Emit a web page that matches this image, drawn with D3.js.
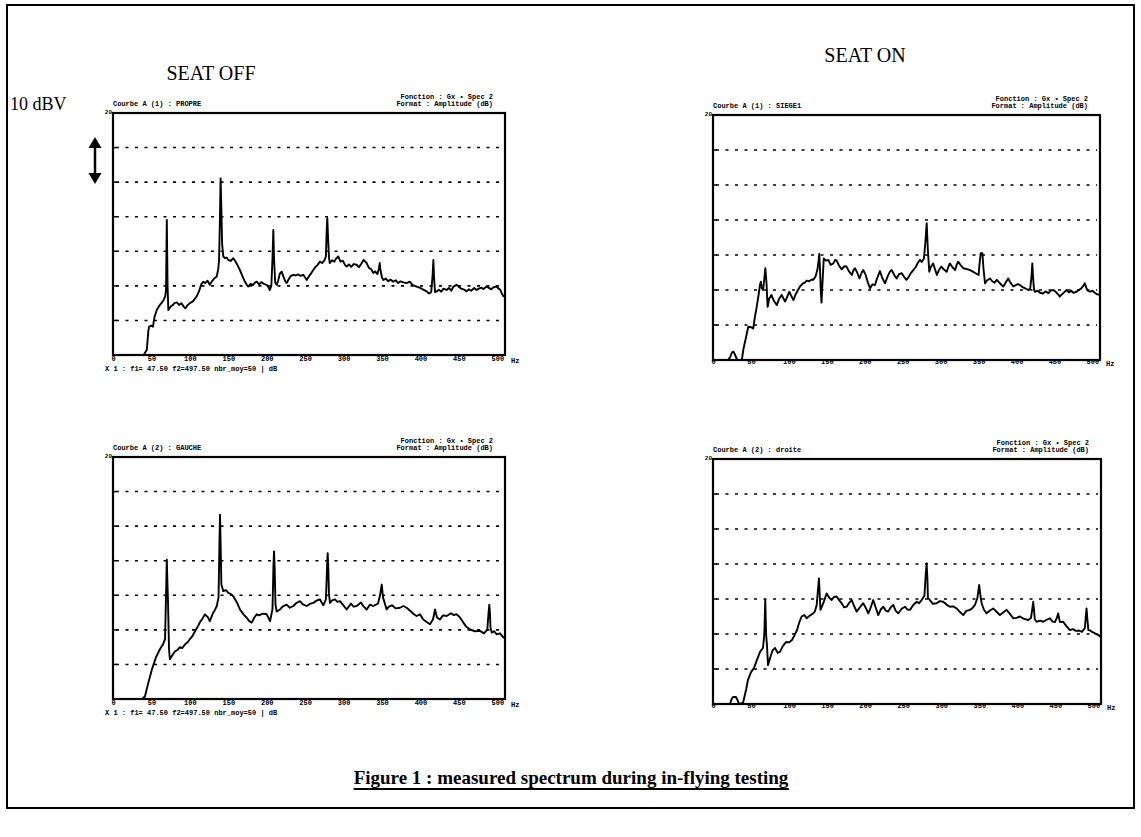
<!DOCTYPE html>
<html><head><meta charset="utf-8">
<script src="https://cdn.jsdelivr.net/npm/d3@7"></script>
<style>body{margin:0;background:#fff}svg{display:block}</style>
</head><body>
<svg id="c" width="1141" height="837"></svg>
<script>
// ---- data (frequency Hz, amplitude dB) ----
const freqTicks = [0,50,100,150,200,250,300,350,400,450,500];
const ampGrid = [-40,-30,-20,-10,0,10];
const ampDomain = [-50,20];
const freqDomain = [0,510];
const columnTitles = ["SEAT OFF","SEAT ON"];
const headerLeft = ["Courbe A (1) : PROPRE","Courbe A (1) : SIEGE1","Courbe A (2) : GAUCHE","Courbe A (2) : droite"];
const headerFunc = ["Fonction : Gx \u2022 Spec 2","Fonction : Gx \u2022 Spec 2","Fonction : Gx \u2022 Spec 2","Fonction : Gx \u2022 Spec 2"];
const headerFmt = ["Format : Amplitude (dB)","Format : Amplitude (dB)","Format : Amplitude (dB)","Format : Amplitude (dB)"];
const infoLine = "X 1 : f1= 47.50 f2=497.50 nbr_moy=50 | dB";

const seatOffTop = [[0,-50],[40,-50],[44,-48.5],[46,-43],[47,-41.8],[50,-41.5],[52,-41.8],[54,-39],[57,-36.9],[60,-35.8],[63,-35],[66,-34],[68,-33],[69,-31],[70,-10.9],[71,-30],[72,-37],[75,-36],[78,-35.5],[80,-35],[83,-34.8],[86,-35.5],[89,-35],[92,-36],[94,-36.5],[97,-35.6],[100,-35],[104,-34.5],[107,-33.6],[109,-33],[112,-31.5],[115,-29.5],[117.5,-28.8],[120,-29.2],[123,-28.5],[126,-29.7],[129,-28.6],[132,-27.8],[135,-27.3],[137,-25],[138,-22.5],[139,-12],[140,1.1],[141,-8],[142,-18],[143.5,-21.5],[146,-22],[148,-21.8],[150,-22.5],[153,-22.8],[156.5,-22],[159,-22.8],[162,-24],[165,-25.4],[168,-27],[171,-28.5],[174,-29.7],[176,-30.2],[179,-29.4],[182,-29.8],[185,-29],[187,-28.8],[190,-29.6],[193,-28.9],[196,-29.4],[200,-29.7],[202,-30.3],[204,-31.2],[206,-30],[207.5,-22],[208.6,-13.8],[209.5,-22],[211,-29],[213,-29.7],[215,-28.4],[217,-26.5],[219.5,-25.9],[222,-27.5],[224,-28.6],[226,-29.2],[228,-28.3],[231,-27.2],[234.6,-26.8],[238,-27],[241,-26.7],[244,-27.1],[247.6,-26.8],[250,-27.6],[252,-28.3],[255,-27.2],[258,-26.3],[260.6,-25.4],[263,-24.6],[266,-24],[269,-23],[272,-23.4],[275,-22.6],[277,-21.5],[278,-14],[278.8,-10.4],[279.6,-15],[281,-21.8],[282,-23.4],[285,-22.6],[288,-23],[290,-22.2],[293,-21.5],[296,-23],[299,-22.7],[302,-24],[304,-24.4],[307,-23.8],[310,-24.5],[313,-23.7],[317,-23.9],[320,-24.6],[323,-23.6],[326,-22.5],[330,-23.4],[333,-24.8],[336,-25.2],[338.7,-26.3],[341,-25.8],[344,-26.6],[346,-25],[347,-23.4],[348,-25.5],[350,-27.6],[351.7,-28.3],[355,-27.9],[358,-28.7],[361,-28.2],[364.7,-28.8],[368,-28.4],[371,-29.2],[374,-28.7],[378,-29],[382,-29.2],[386,-28.8],[390,-29.8],[395,-30.2],[399,-30.5],[403,-31],[408,-31.6],[411,-32.2],[414,-31.8],[415.8,-27],[416.8,-22.5],[417.8,-28],[419,-31.8],[421,-31.6],[424,-31.1],[427,-31.7],[430,-30.8],[434,-31.2],[437,-30.6],[440,-31.4],[443,-30.2],[447,-29.7],[450,-30.3],[453,-30.8],[456,-31],[460,-31.6],[463,-31],[466,-31.4],[470,-30.6],[473,-31.2],[476,-30.8],[479,-30.5],[482,-30.9],[486,-30.2],[489,-30.6],[492,-31],[495,-30.4],[498,-30.2],[501,-30.6],[504,-31.2],[506,-32.3],[508,-33],[510,-33.2]];

const seatOnTop = [[0,-50],[20,-50],[23,-49],[25,-47.8],[27,-47.6],[29,-48.5],[32,-50],[38,-50],[40,-47],[43,-44],[46.5,-40.5],[50,-40.6],[53,-41],[55,-38],[57.6,-34.8],[60,-31.5],[62,-28.5],[63,-27.6],[64.5,-29.5],[66,-30],[67.5,-27],[69,-23.8],[70.5,-28],[72,-34.8],[74,-32.5],[77,-31.4],[80,-33],[84,-34.3],[87,-32.6],[90.5,-31.4],[93,-32.5],[95,-33.3],[98,-31.8],[100.6,-30.5],[103,-31.6],[106,-32.9],[109,-31.2],[112,-30],[114.7,-29],[118,-28.2],[121,-27.9],[123.5,-27.3],[127,-27.5],[130,-27],[132,-27.1],[135,-26.2],[137.5,-24.3],[139,-22],[140,-19.7],[141,-24],[142,-30],[143,-33.6],[144.5,-27],[146,-21],[149,-21.6],[152,-21.4],[155,-22.8],[158.6,-22.4],[161,-21.4],[163,-21.6],[166,-23],[169.6,-24.1],[173,-23.2],[176,-23.3],[179,-24.6],[183,-25.7],[185,-24.4],[187,-23.8],[190,-25],[193,-26.7],[196,-25],[198,-24.3],[201,-25.6],[204,-27.8],[207,-29.5],[210,-28.4],[213.5,-28.6],[216,-26.8],[220,-24.6],[223,-26.5],[226.7,-28.1],[230,-26.2],[233,-24.8],[235.5,-24.3],[239,-25.8],[242,-26.7],[245,-25.5],[248.7,-25.2],[252,-26.3],[255,-27.1],[258,-26.2],[261,-25.1],[264,-24.3],[267,-23.5],[270,-22.2],[272.8,-21.4],[275,-22],[278,-21],[280,-16],[281.6,-10.9],[283,-18],[285,-24.8],[287,-23.4],[290,-22.4],[292.5,-24],[295,-25.7],[298,-24.2],[301,-23.3],[304,-24.1],[308,-24.8],[310,-23.5],[312,-22.4],[315,-23.3],[319,-24.3],[321,-22.9],[323,-21.9],[326,-22.8],[330,-23.8],[334,-24],[338.7,-24.3],[342,-24.7],[346,-25.2],[350,-25.7],[351.5,-22],[352.8,-19.5],[355,-19.5],[356.5,-24],[358.5,-28.1],[361,-27.3],[365,-26.7],[368,-27.5],[371,-27.9],[374,-27.1],[377,-27.8],[380,-28.5],[382.6,-29],[386,-27.8],[389,-26.7],[392,-27.9],[395.8,-29],[399,-28.6],[402,-28.3],[404.6,-28.6],[408,-29.2],[412,-29.6],[415.6,-30],[418,-29.6],[419.8,-26],[420.8,-22.4],[421.8,-26.5],[423,-29.8],[424.4,-30.5],[428,-30.2],[431,-30.8],[435,-31],[438,-30.4],[442,-30.9],[445,-30.2],[448.5,-30],[452,-30.6],[455,-31.3],[457,-31.9],[460,-31.2],[463,-30.6],[466,-30],[469,-30.7],[472,-30.2],[475,-30.8],[479,-30.5],[482,-30],[485,-29.6],[488,-28.8],[490,-28.1],[492,-29.4],[494,-30.2],[497,-30.5],[500,-30.2],[503,-30.8],[506,-31.2],[510,-31.4]];

const seatOffBottom = [[0,-50],[38,-50],[41.6,-49.2],[45.5,-45.7],[50.7,-41.4],[56,-37.9],[61,-35.6],[65,-34.2],[67.7,-32.7],[69,-20],[70,-9.7],[71,-18],[71.5,-21.2],[72.9,-35.6],[74,-38.5],[77,-37.4],[80.7,-36.2],[84,-35.8],[87,-35],[90,-35.3],[93.7,-34.2],[97,-33.6],[100,-32.7],[103,-31.9],[106.7,-30.4],[110,-29.2],[113,-27.8],[116,-26.9],[119.7,-25.5],[123.6,-26.4],[126,-27.5],[130,-25.2],[132.5,-24.3],[135,-23.1],[137.3,-20.6],[138.4,-6],[139.2,3.3],[140.1,-6],[141,-16.9],[143.5,-18.8],[147,-18.5],[150,-19.3],[153,-19.6],[156.5,-20.3],[161,-22],[165.2,-24.1],[170,-25.6],[174,-26.5],[177,-27.4],[180.5,-27.9],[184,-26.4],[187,-25.5],[190,-25.8],[192.5,-25.5],[196,-25.3],[200,-25.5],[204.3,-27.5],[207.5,-24],[208.7,-12],[209.5,-7.3],[210.3,-12],[211.4,-22.7],[213,-24.7],[217.3,-24.1],[221,-23.2],[226,-22.7],[230,-23.6],[234.6,-23.1],[238,-22.3],[243.3,-21.7],[247,-22.6],[252,-23.1],[256,-22.5],[260.6,-22.2],[265,-21.5],[269.3,-21.2],[273.6,-22.9],[277,-21.2],[278.5,-12],[279.3,-7.8],[280.1,-12],[281,-19.8],[282.3,-22.2],[285,-21.5],[288.8,-21.2],[292,-21.9],[295.3,-21.7],[300,-23],[304,-24.1],[309.6,-22.4],[313,-23.3],[317,-23.1],[322.6,-22.1],[326,-23.2],[330,-24.1],[334.4,-22.7],[338.7,-23.1],[344.8,-22.4],[347.4,-20],[349.6,-16.9],[351.3,-20.6],[356,-24.1],[359,-23.3],[363,-22.9],[368,-23.8],[373.4,-23.6],[377.7,-23.1],[382,-23.6],[387.7,-24.7],[391,-25.4],[395,-26],[399.4,-25.5],[403.7,-27],[408.5,-27.8],[412.4,-28.4],[416.3,-27],[419,-24.1],[421.5,-26.4],[425.4,-27],[429.3,-25.8],[434,-26],[439.7,-25.2],[443,-25.7],[447,-25.5],[451.4,-26.4],[455.8,-27.9],[459.3,-29],[464.5,-29.9],[471,-30.4],[477.5,-30.3],[482.7,-31],[487,-29.9],[488.6,-25],[489.6,-22.7],[490.4,-25],[491.1,-29.3],[492.7,-30.8],[495.7,-30.4],[499.2,-31.3],[503.5,-31],[507.8,-32.2],[510,-32.4]];

const seatOnBottom = [[0,-50],[20,-50],[22.3,-50],[24.5,-48.6],[26.3,-48],[30.2,-48],[32.5,-49],[34.2,-50],[39.4,-49.7],[43.4,-46],[46,-43.1],[50,-40.9],[53.9,-39.7],[57.8,-37.4],[61.8,-35.1],[65.7,-34],[67.5,-30],[68.7,-20.3],[69.8,-30],[71,-33.5],[72.3,-38.9],[76.2,-36],[78.5,-34.6],[81.5,-34],[85,-35.4],[88,-35.1],[92,-33.4],[95.9,-32.3],[100,-32.4],[103.8,-31.7],[107,-30.4],[110.4,-28.9],[113.5,-26.6],[116.5,-25],[120,-24.6],[123.1,-25.5],[127,-24.8],[131.8,-24.1],[134,-23.5],[136.3,-21.7],[138.3,-16.5],[139.3,-14.1],[140.3,-19],[141.3,-23.1],[145,-21.2],[149.4,-18.4],[152.7,-19.6],[156,-20.3],[159,-19.4],[162.5,-19.3],[166,-20.4],[169.1,-21.2],[172.5,-22.4],[175.7,-22.2],[179,-21.1],[182.3,-20.3],[185.5,-22],[188.8,-23.6],[193,-22.4],[197.5,-21.2],[201,-22.6],[204.1,-24.1],[207.5,-22.3],[210.6,-20.3],[214,-22.5],[217.2,-24.6],[220.5,-23],[223.8,-22.2],[227,-23.3],[230.3,-23.6],[233.5,-22.4],[236.9,-21.7],[240,-23.3],[243.5,-24.1],[248,-22.8],[252.3,-22.2],[255.5,-23],[258.9,-23.1],[263,-21.8],[267.7,-20.8],[271,-21.2],[274.2,-20.3],[277.9,-19.1],[279.6,-13],[280.8,-9.8],[281.8,-14],[282.5,-19.7],[285.1,-20.3],[289,-21.4],[293.9,-21.2],[298,-20.6],[302.6,-20.8],[307,-21.6],[311.4,-22.2],[316,-22.1],[320.2,-22.7],[325,-23.8],[328.9,-24.6],[333,-23.4],[337.7,-23.1],[341,-22.6],[344.3,-21.7],[347.5,-19.7],[349.9,-16],[351.5,-19],[353.1,-21.2],[356,-23],[359.6,-24.1],[364,-23.3],[368.3,-22.7],[372,-23.5],[377.1,-24.6],[381,-23.9],[385.9,-23.1],[390,-24.2],[394.6,-25.5],[399,-25.4],[403.4,-25],[408,-25.6],[414.3,-26],[418,-25.4],[419.9,-22.5],[420.9,-20.8],[421.9,-23],[423,-25.8],[425.3,-26.5],[430,-26.2],[434,-26.5],[438,-26],[442.8,-25.5],[446,-26.4],[449.4,-26.6],[452,-25.4],[453.7,-24.1],[455,-25.6],[456,-26.6],[460.3,-26.5],[464,-27.6],[469.1,-28.9],[473,-28.6],[477,-29.1],[481,-29],[484.9,-29.4],[488.8,-28.3],[490,-25],[491,-22.7],[492,-25.5],[493.4,-28.9],[496,-29],[498,-29.4],[500.5,-29.6],[503.3,-30],[506.5,-30.3],[510,-30.9]];

const series = [seatOffTop, seatOnTop, seatOffBottom, seatOnBottom];

// ---- layout ----
const panels = [
  {x0:113, x1:505, y0:113, y1:355, tickY:363, info:true},
  {x0:713, x1:1100, y0:115, y1:360, tickY:366, info:false},
  {x0:113, x1:505, y0:457, y1:699, tickY:707, info:true},
  {x0:713, x1:1101, y0:459, y1:704, tickY:710, info:false}
];

const svg = d3.select("#c");
const serif = "'Liberation Serif','Times New Roman',serif";
const mono = "'Liberation Mono','DejaVu Sans Mono',monospace";

// outer frame
svg.append("rect").attr("x",7).attr("y",5).attr("width",1127).attr("height",803)
  .attr("fill","none").attr("stroke","#000").attr("stroke-width",2);

// column titles
svg.append("text").attr("x",211).attr("y",80).attr("text-anchor","middle")
  .attr("font-family",serif).attr("font-size",20).text(columnTitles[0]);
svg.append("text").attr("x",865).attr("y",62).attr("text-anchor","middle")
  .attr("font-family",serif).attr("font-size",20).text(columnTitles[1]);

// 10 dBV label and arrow
svg.append("text").attr("x",10).attr("y",110).attr("font-family",serif)
  .attr("font-size",18).text("10 dBV");
svg.append("line").attr("x1",95).attr("x2",95).attr("y1",146).attr("y2",175)
  .attr("stroke","#000").attr("stroke-width",2.5);
svg.append("path").attr("d","M95,137 L88.5,148 L101.5,148 Z").attr("fill","#000");
svg.append("path").attr("d","M95,184 L88.5,173 L101.5,173 Z").attr("fill","#000");

panels.forEach((p,i)=>{
  const x = d3.scaleLinear().domain(freqDomain).range([p.x0,p.x1]);
  const y = d3.scaleLinear().domain(ampDomain).range([p.y1,p.y0]).clamp(true);
  const g = svg.append("g");

  g.selectAll("line.grid").data(ampGrid).join("line")
    .attr("x1",p.x0+3).attr("x2",p.x1-3)
    .attr("y1",d=>y(d)).attr("y2",d=>y(d))
    .attr("stroke","#000").attr("stroke-width",1.6).attr("stroke-dasharray","3,6.5");
  g.selectAll("line.lt").data(ampGrid).join("line")
    .attr("x1",p.x0).attr("x2",p.x0+4).attr("y1",d=>y(d)).attr("y2",d=>y(d))
    .attr("stroke","#000").attr("stroke-width",1.5);

  const line = d3.line().x(d=>x(d[0])).y(d=>y(d[1]));
  g.append("path").datum(series[i]).attr("d",line).attr("fill","none")
    .attr("stroke","#000").attr("stroke-width",1.9).attr("stroke-linejoin","round");

  g.append("rect").attr("x",p.x0).attr("y",p.y0).attr("width",p.x1-p.x0).attr("height",p.y1-p.y0)
    .attr("fill","none").attr("stroke","#000").attr("stroke-width",2.2);

  const ax = d3.axisBottom(x).tickValues(freqTicks).tickSize(0).tickPadding(0).tickFormat(d3.format("d"));
  const axg = g.append("g").attr("transform",`translate(0,${p.tickY-7})`).call(ax);
  axg.select(".domain").remove();
  axg.selectAll("text").attr("font-family",mono).attr("font-weight","bold")
    .attr("font-size",7).attr("fill","#000").attr("dy","0.71em");
  g.append("text").attr("x",x(freqDomain[1])+6).attr("y",p.tickY).attr("font-family",mono)
    .attr("font-weight","bold").attr("font-size",7).text("Hz");

  g.append("text").attr("x",p.x0-1).attr("y",p.y0+1).attr("text-anchor","end")
    .attr("font-family",mono).attr("font-weight","bold").attr("font-size",6).text("20");

  g.append("text").attr("x",p.x0).attr("y",p.y0-7).attr("font-family",mono)
    .attr("font-weight","bold").attr("font-size",7).text(headerLeft[i]);
  g.append("text").attr("x",p.x1-12).attr("y",p.y0-14).attr("text-anchor","end").attr("font-family",mono)
    .attr("font-weight","bold").attr("font-size",7).text(headerFunc[i]);
  g.append("text").attr("x",p.x1-12).attr("y",p.y0-7).attr("text-anchor","end").attr("font-family",mono)
    .attr("font-weight","bold").attr("font-size",7).text(headerFmt[i]);

  if(p.info){
    g.append("text").attr("x",p.x0-8).attr("y",p.tickY+8).attr("font-family",mono)
      .attr("font-weight","bold").attr("font-size",7).text(infoLine);
  }
});

// figure caption
const cap = svg.append("text").attr("x",571).attr("y",784).attr("text-anchor","middle")
  .attr("font-family",serif).attr("font-weight","bold").attr("font-size",19)
  .text("Figure 1 : measured spectrum during in-flying testing");
const bb = cap.node().getBBox();
svg.append("line").attr("x1",bb.x).attr("x2",bb.x+bb.width).attr("y1",789).attr("y2",789)
  .attr("stroke","#000").attr("stroke-width",1.8);
</script>
</body></html>
